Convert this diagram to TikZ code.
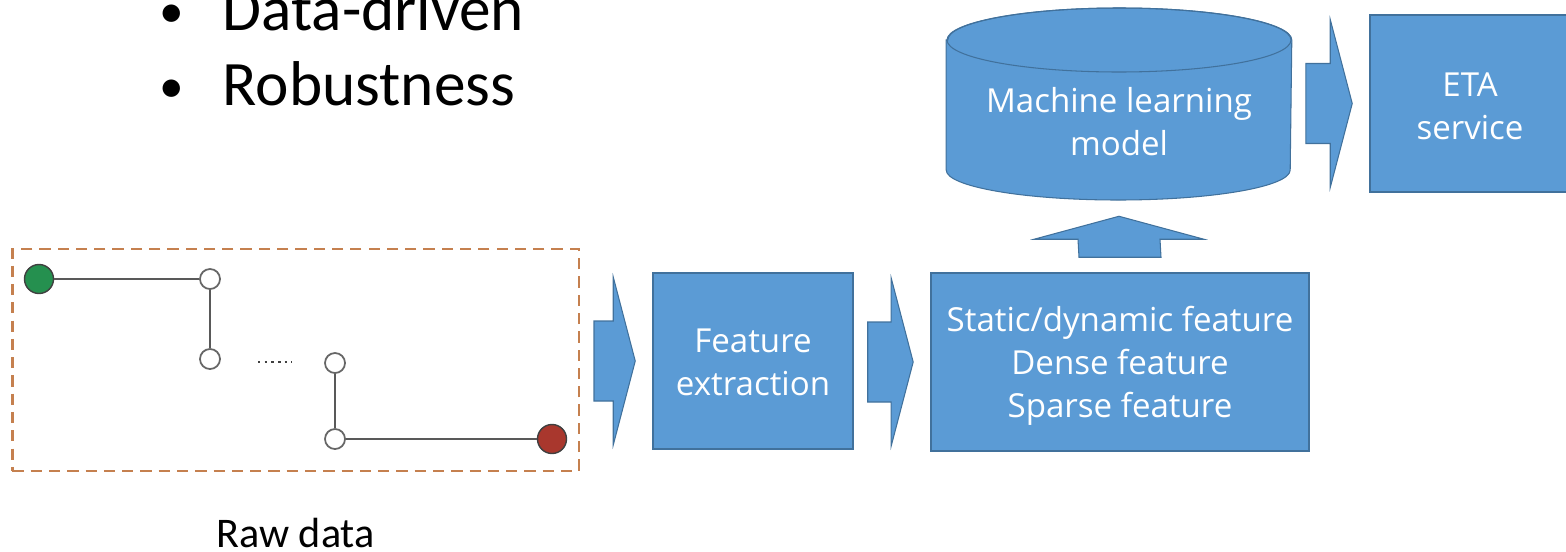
\documentclass[tikz,border=0pt]{standalone}
\usepackage{fontspec}
\setmainfont{Carlito}
\newfontfamily\boxfont{Open Sans}
\usepackage{tikz}
\usetikzlibrary{calc}
\definecolor{blockBlue}{HTML}{5B9BD5}
\definecolor{blockLine}{HTML}{41719C}
\definecolor{rawLine}{HTML}{C5804F}
\definecolor{startGreen}{HTML}{25904F}
\definecolor{endRed}{HTML}{A9372D}

\tikzset{
  block/.style={fill=blockBlue, draw=blockLine, line width=0.4pt, inner sep=0pt},
  blocktext/.style={text=white, font=\boxfont\fontsize{9.4}{12.2}\selectfont,
    align=center, inner sep=0pt},
  blockfill/.style={fill=blockBlue, draw=blockLine, line width=0.3pt},
  bullettext/.style={font=\fontsize{18}{22}\selectfont, inner sep=0pt},
  waypoint/.style={circle, draw=black!60, fill=white, minimum size=0.2cm,
    inner sep=0pt, line width=0.5pt},
  endpoint/.style={circle, draw=black!75, minimum size=0.29cm, inner sep=0pt,
    line width=0.4pt},
  route/.style={draw=black!65, line width=0.5pt},
  rawbox/.style={draw=rawLine, line width=0.7pt, dash pattern=on 3.2pt off 2pt,
    minimum width=5.66cm, minimum height=2.22cm, inner sep=0pt}
}

% horizontal block arrow between two nodes
\newcommand{\blockarrow}[2]{%
  \coordinate (tip) at ($(#2.west)+(-17,0)$);
  \coordinate (tail) at ($(#1.east |- #2.west)+(14,0)$);
  \filldraw[blockfill] ($(tail)+(0,-40)$) -- ($(tip)+(-22,-40)$)
    -- ($(tip)+(-22,-84)$) -- (tip) -- ($(tip)+(-22,84)$)
    -- ($(tip)+(-22,40)$) -- ($(tail)+(0,40)$) -- cycle;
}

\begin{document}
\begin{tikzpicture}[x=0.01cm, y=-0.01cm]
    \useasboundingbox (0,0) rectangle (1566,551);
    \clip (0,0) rectangle (1566,551);

    % bullet list
    \node[anchor=base, bullettext, font=\fontsize{14}{16}\selectfont] (b1) at (172,27) {•};
    \node[anchor=base west, bullettext] (t1) at (222,30) {Data-driven};
    \node[anchor=base, bullettext, font=\fontsize{14}{16}\selectfont] (b2) at (172,102) {•};
    \node[anchor=base west, bullettext] (t2) at (222,105) {Robustness};

    % raw data trajectory
    \node[rawbox] (raw) at (295.6,360) {};
    \node[endpoint, fill=startGreen] (start) at (39,279) {};
    \node[waypoint] (p1) at (210,279) {};
    \node[waypoint] (p2) at (210,359) {};
    \node[waypoint] (p3) at (335,363) {};
    \node[waypoint] (p4) at (335,439) {};
    \node[endpoint, fill=endRed] (goal) at (552,439) {};
    \draw[route] (start) -- (p1) -- (p2);
    \draw[route] (p3) -- (p4) -- (goal);
    \coordinate (dotsL) at (258,362);
    \coordinate (dotsR) at (292,362);
    \draw[black!75, line width=0.7pt, dash pattern=on 0.7pt off 1.2pt] (dotsL) -- (dotsR);
    \node[anchor=base, inner sep=0pt, font=\fontsize{12}{14}\selectfont] (rawlabel) at (295.5,547) {Raw data};

    % processing blocks
    \node[block, minimum width=2cm, minimum height=1.76cm] (fe) at (753,361) {};
    \node[blocktext] (fetext) at ($(fe)+(0,1)$) {Feature\\extraction};
    \node[block, minimum width=3.78cm, minimum height=1.78cm] (sd) at (1120,362) {};
    \node[blocktext] (sdtext) at ($(sd)+(0,4)$) {Static/dynamic feature\\Dense feature\\Sparse feature};
    \node[block, minimum width=2cm, minimum height=1.77cm] (eta) at (1470,103.5) {};
    \node[blocktext] (etatext) at ($(eta)+(0,3)$) {ETA\\service};

    % machine learning model (cylinder)
    \node[minimum width=3.44cm, minimum height=1.93cm, inner sep=0pt] (mlm) at (1119,104) {};
    \filldraw[blockfill] (mlm.west |- 0,40) -- (mlm.west |- 0,170)
        arc[start angle=180, end angle=0, x radius=172, y radius=30]
        -- (mlm.east |- 0,40)
        arc[start angle=0, end angle=-180, x radius=172, y radius=32] -- cycle;
    \draw[blockLine, line width=0.3pt] (1119,40) ellipse [x radius=172, y radius=32];
    \node[blocktext] (mltext) at (1119,122) {Machine learning\\model};

    % block arrows
    \blockarrow{raw}{fe}
    \blockarrow{fe}{sd}
    \blockarrow{mlm}{eta}
    \coordinate (upbase) at ($(sd.north)+(0,-15)$);
    \coordinate (uptip) at ($(mlm.south)+(0,15)$);
    \filldraw[blockfill] ($(upbase)+(-41,0)$) -- ($(uptip)+(-41,23)$)
        -- ($(uptip)+(-85,23)$) -- (uptip) -- ($(uptip)+(85,23)$)
        -- ($(uptip)+(41,23)$) -- ($(upbase)+(41,0)$) -- cycle;
\end{tikzpicture}
\end{document}
